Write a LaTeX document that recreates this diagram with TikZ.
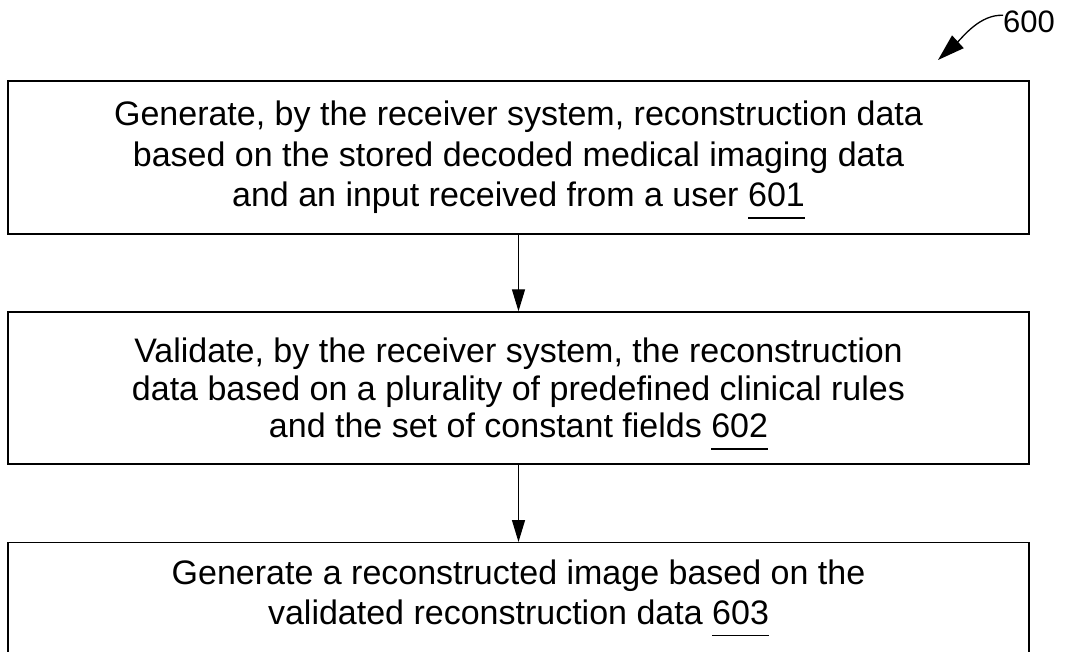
\documentclass[tikz,border=0pt]{standalone}
\usepackage{fontspec}
\setmainfont{Liberation Sans}
\usetikzlibrary{arrows.meta}
\newsavebox\refbox
\newcommand\refnum[1]{\sbox\refbox{#1}\rlap{\raisebox{-12pt}[0pt][0pt]{\rule{\wd\refbox}{1.3pt}}}\usebox\refbox}
\begin{document}
\begin{tikzpicture}[x=1pt,y=-1pt,
  box/.style={draw, line width=1.4pt, minimum width=1021pt, inner sep=0pt, align=center},
  txt/.style={inner sep=0pt, align=center},
  flow/.style={line width=1.3pt, -{Triangle[length=22pt,width=13pt]}},
  callout/.style={line width=1.3pt, -{Triangle[length=27pt,width=17pt]}},
]
\useasboundingbox (0,0) rectangle (1065,652);
\node[box, minimum height=153pt, font=\fontsize{34}{40.5}\selectfont] (b1) at (518.5,157.5)
  {Generate, by the receiver system, reconstruction data\\ based on the stored decoded medical imaging data\\ and an input received from a user \refnum{601}};
\node[box, minimum height=152pt, font=\fontsize{34}{37.5}\selectfont] (b2) at (518.5,388)
  {Validate, by the receiver system, the reconstruction\\ data based on a plurality of predefined clinical rules\\ and the set of constant fields \refnum{602}};
\node[box, minimum height=160pt, anchor=north] (b3) at (518.5,542) {};
\node[txt, font=\fontsize{34}{40}\selectfont] (t3) at (518.5,592)
  {Generate a reconstructed image based on the\\ validated reconstruction data \refnum{603}};
\draw[flow] (b1) -- (b2);
\draw[flow] (b2) -- (b3);
\node[inner sep=0pt, anchor=base west, font=\fontsize{31}{36}\selectfont] (l600) at (1003,33) {600};
\coordinate (a600) at (938,60);
\draw[callout] ([yshift=7pt]l600.west) .. controls (980,14) and (962,38) .. (a600);
\end{tikzpicture}
\end{document}
